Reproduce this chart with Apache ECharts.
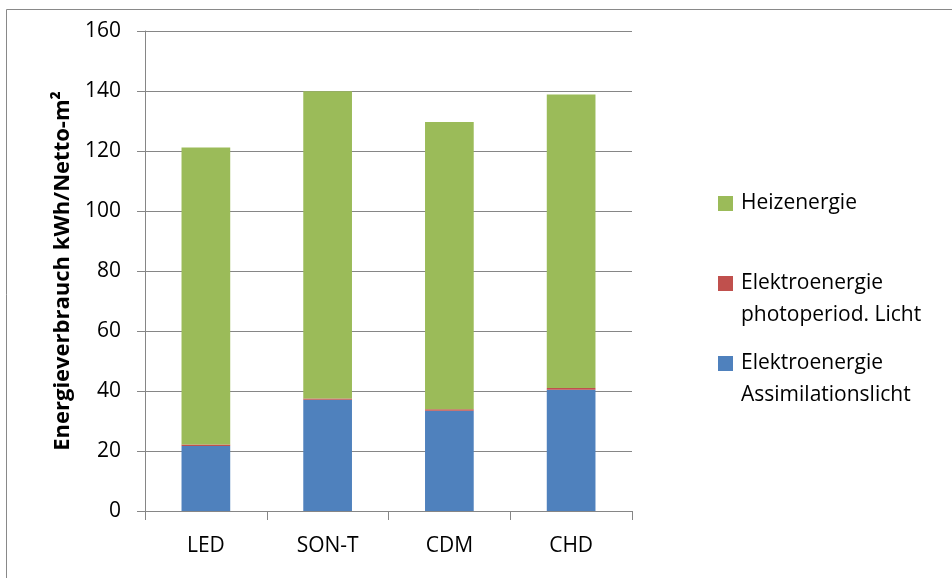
<!DOCTYPE html>
<html>
<head>
<meta charset="utf-8">
<script src="https://cdn.jsdelivr.net/npm/echarts@6/dist/echarts.min.js"></script>
<style>
html,body{margin:0;padding:0;background:#fff;}
#c{width:952px;height:578px;}
</style>
</head>
<body>
<div id="c"></div>
<script>
var categories = ['LED', 'SON-T', 'CDM', 'CHD'];
var assimilation = [21.7, 37.1, 33.4, 40.4];
var photoperiod = [0.5, 0.4, 0.5, 0.6];
var heizenergie = [99.0, 102.4, 95.8, 97.8];
var yTicks = { min: 0, max: 160, interval: 20 };
var names = {
  heiz: 'Heizenergie',
  photo: 'Elektroenergie photoperiod. Licht',
  assim: 'Elektroenergie Assimilationslicht'
};
var FONT = '"Open Sans", sans-serif';
var chart = echarts.init(document.getElementById('c'), null, { renderer: 'canvas' });

function legendAt(name, top, twoLine) {
  return {
    data: [name],
    orient: 'vertical',
    left: 718,
    top: top,
    padding: 0,
    itemWidth: 15,
    itemHeight: 15,
    selectedMode: false,
    icon: 'rect',
    formatter: function (n) {
      var i = n.indexOf(' ');
      return twoLine ? ' \n' + n.slice(0, i) + '\n' + n.slice(i + 1) : n;
    },
    textStyle: {
      fontFamily: FONT,
      fontSize: 21,
      color: '#000',
      lineHeight: 32,
      padding: [0, 0, 0, 3]
    }
  };
}

chart.setOption({
  animation: false,
  backgroundColor: '#fff',
  graphic: [{
    type: 'rect',
    shape: { x: 6.5, y: 9.5, width: 2000, height: 2000 },
    style: { fill: 'none', stroke: '#898989', lineWidth: 1 },
    silent: true
  }],
  legend: [
    legendAt(names.heiz, 187.5, false),
    legendAt(names.photo, 235.5, true),
    legendAt(names.assim, 315.5, true)
  ],
  grid: { left: 145, right: 320, top: 31, bottom: 67, containLabel: false },
  xAxis: {
    type: 'category',
    data: categories,
    axisLine: { lineStyle: { color: '#868686', width: 1 } },
    axisTick: { show: true, length: 9, lineStyle: { color: '#868686' } },
    axisLabel: { fontFamily: FONT, fontSize: 21, color: '#000', margin: 25 }
  },
  yAxis: {
    type: 'value',
    min: yTicks.min,
    max: yTicks.max,
    interval: yTicks.interval,
    name: 'Energieverbrauch kWh/Netto-m²',
    nameLocation: 'middle',
    nameGap: 69,
    nameTextStyle: { fontFamily: FONT, fontSize: 22, fontWeight: 'bold', color: '#000' },
    axisLine: { show: true, lineStyle: { color: '#868686', width: 1 } },
    axisTick: { show: true, length: 8, lineStyle: { color: '#868686' } },
    splitLine: { show: true, lineStyle: { color: '#868686', width: 1 } },
    axisLabel: { fontFamily: FONT, fontSize: 21, color: '#000', margin: 24 }
  },
  series: [
    { name: names.assim, type: 'bar', stack: 'e', data: assimilation, barCategoryGap: '60%',
      itemStyle: { color: '#4F81BD' } },
    { name: names.photo, type: 'bar', stack: 'e', data: photoperiod,
      itemStyle: { color: '#C0504D' } },
    { name: names.heiz, type: 'bar', stack: 'e', data: heizenergie,
      itemStyle: { color: '#9BBB59' } }
  ]
});
</script>
</body>
</html>
